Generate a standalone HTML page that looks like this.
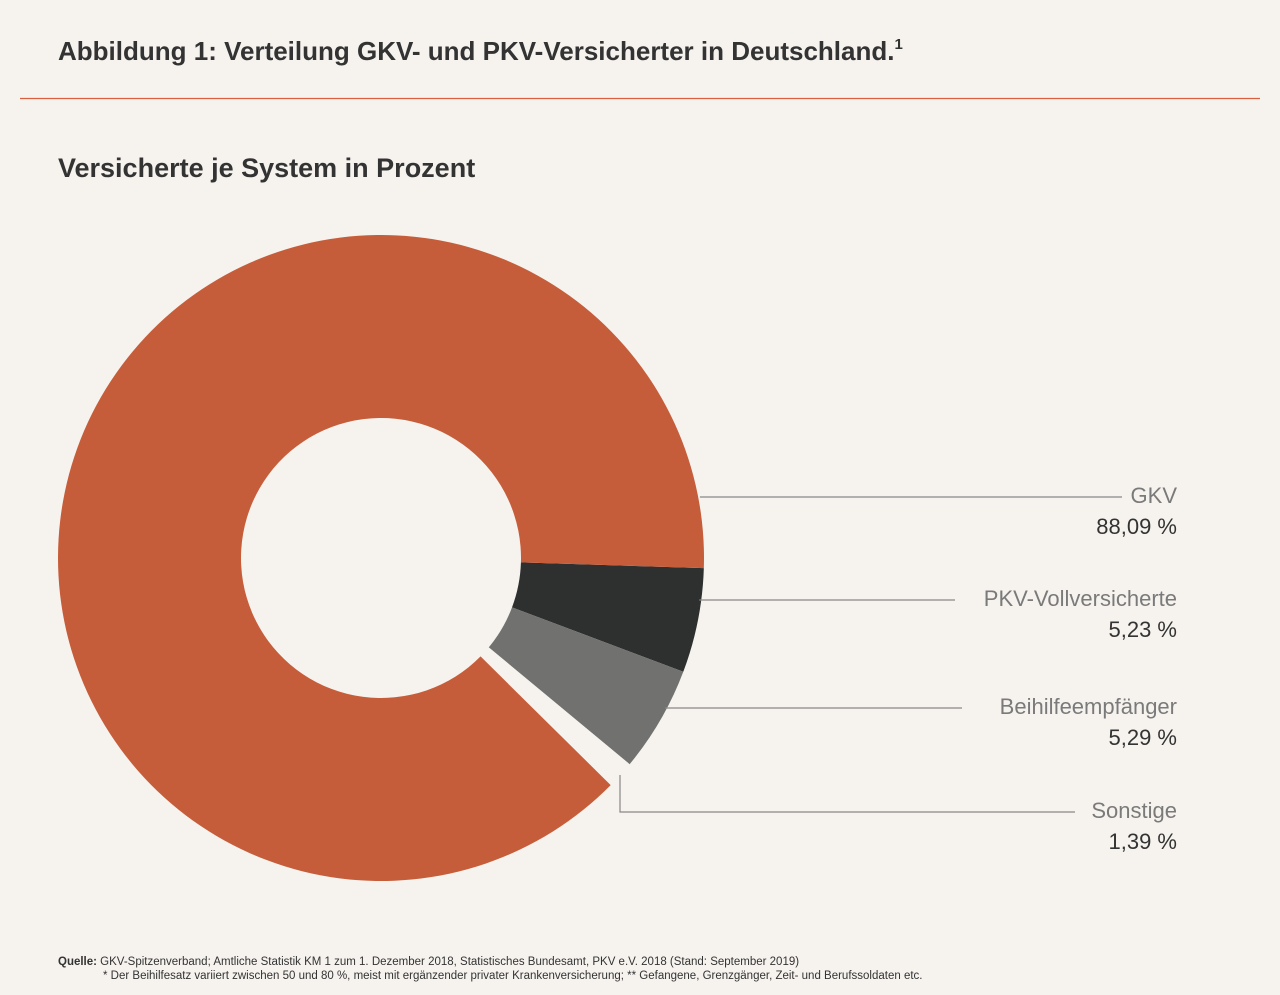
<!DOCTYPE html>
<html><head><meta charset="utf-8"><style>
body{margin:0;background:#f6f3ef;font-family:"Liberation Sans",sans-serif;}
#wrap{position:relative;width:1280px;height:995px;overflow:hidden;background:#f6f3ef;}
</style></head><body>
<div id="wrap">
<svg id="svg" width="1280" height="995">
<text x="58" y="60" font-size="26" fill="#333" font-weight="600">Abbildung 1: Verteilung GKV- und PKV-Versicherter in Deutschland.<tspan font-size="15" dy="-11">1</tspan></text>
<line x1="20" y1="98.5" x2="1260" y2="98.5" stroke="#d9603f" stroke-width="1.2"/>
<text x="58" y="177" font-size="27" fill="#333" font-weight="600">Versicherte je System in Prozent</text>
<g id="slices"></g>
<g id="labels"></g>
<text x="58" y="965" font-size="11.5" fill="#333"><tspan font-weight="bold">Quelle:</tspan> GKV-Spitzenverband; Amtliche Statistik KM 1 zum 1. Dezember 2018, Statistisches Bundesamt, PKV e.V. 2018 (Stand: September 2019)</text>
<text x="103" y="979" font-size="11.5" fill="#333">* Der Beihilfesatz variiert zwischen 50 und 80 %, meist mit ergänzender privater Krankenversicherung; ** Gefangene, Grenzgänger, Zeit- und Berufssoldaten etc.</text>
</svg>
</div>
<script>
const categories=["PKV-Vollversicherte","Beihilfeempfänger","Sonstige","GKV"];
const values=[5.23,5.29,1.39,88.09];
const valueLabels=["5,23 %","5,29 %","1,39 %","88,09 %"];
const colors=["#2e3030","#717270","none","#c65d3a"];
const cx=381,cy=558,R=323,r=140,start=1.8;
const NS="http://www.w3.org/2000/svg";
const total=values.reduce((a,b)=>a+b,0);
function pt(a,rad){const t=a*Math.PI/180;return [cx+rad*Math.cos(t),cy+rad*Math.sin(t)];}
const g=document.getElementById('slices');
let a=start;const mids=[];
values.forEach((v,i)=>{
  const sweep=v/total*360,a2=a+sweep;
  const [x1,y1]=pt(a,R),[x2,y2]=pt(a2,R),[x3,y3]=pt(a2,r),[x4,y4]=pt(a,r);
  const large=sweep>180?1:0;
  const p=document.createElementNS(NS,'path');
  p.setAttribute('d',`M${x1},${y1}A${R},${R} 0 ${large} 1 ${x2},${y2}L${x3},${y3}A${r},${r} 0 ${large} 0 ${x4},${y4}Z`);
  p.setAttribute('fill',colors[i]==="none"?"#f6f3ef":colors[i]);
  
  
  g.appendChild(p);
  mids.push([a,a2]);a=a2;
});
// labels: GKV, PKV, Beihilfe, Sonstige
const L=document.getElementById('labels');
const order=[3,0,1,2];const ys=[497,600,708,812];const lineEnd=[1122,955,962,1075];
order.forEach((i,k)=>{
  const y=ys[k];
  const m=(mids[i][0]+mids[i][1])/2;
  let x0;
  if(i===3){x0=pt(start-0.1,R)[0]-4;}
  else if(i===2){x0=620;}
  else{const t=Math.asin(Math.max(-1,Math.min(1,(y-cy)/R)));x0=cx+R*Math.cos(t)-2;}
  const pl=document.createElementNS(NS,'polyline');
  const pts=i===2?`${pt(m,R+10)[0].toFixed(0)*0+620},775 620,${y} ${lineEnd[k]},${y}`:`${x0},${y} ${lineEnd[k]},${y}`;
  pl.setAttribute('points',pts);pl.setAttribute('fill','none');pl.setAttribute('stroke','#888');pl.setAttribute('stroke-width','1.2');
  
  
  L.appendChild(pl);
  const t1=document.createElementNS(NS,'text');
  t1.setAttribute('x',1177);t1.setAttribute('y',y+6);t1.setAttribute('text-anchor','end');t1.setAttribute('font-size','22');t1.setAttribute('fill','#7a7a7a');
  t1.textContent=categories[i];
  
  
  L.appendChild(t1);
  const t2=document.createElementNS(NS,'text');
  t2.setAttribute('x',1177);t2.setAttribute('y',y+37);t2.setAttribute('text-anchor','end');t2.setAttribute('font-size','22');t2.setAttribute('fill','#333');
  t2.textContent=valueLabels[i];
  
  
  L.appendChild(t2);
});
</script>
</body></html>
